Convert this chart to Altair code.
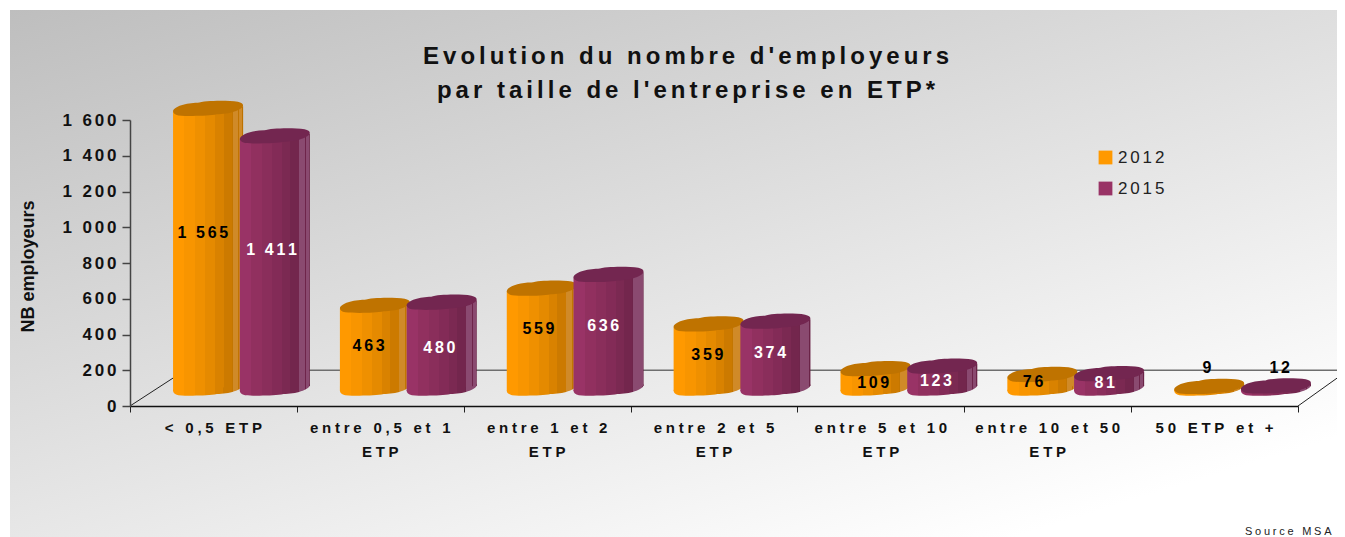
import altair as alt
import pandas as pd

categories = ["< 0,5 ETP", "entre 0,5 et 1\nETP", "entre 1 et 2\nETP", "entre 2 et 5\nETP",
              "entre 5 et 10\nETP", "entre 10 et 50\nETP", "50 ETP et +"]
values_2012 = [1565, 463, 559, 359, 109, 76, 9]
values_2015 = [1411, 480, 636, 374, 123, 81, 12]
label_at_2012 = [967, 336, 431, 285, 131, 134, 213]
label_at_2015 = [872, 325, 447, 295, 142, 128, 213]
label_shift_2012 = [-2, -3, 0, 2, 1, -6, 1]
label_shift_2015 = [0, 1, -2, -2, -3, -1, 7]
y_ticks = [0, 200, 400, 600, 800, 1000, 1200, 1400, 1600]
title_text = "Evolution du nombre d'employeurs\npar taille de l'entreprise en ETP*"
source_text = "Source MSA"

HAIR = "\u200a"
def spaced(s, n=2):
    return "\n".join((HAIR * n).join(line) for line in s.split("\n"))

FONT = "Liberation Sans"
ORANGE_BANDS = ["#ff9900", "#f89500", "#ef9000", "#e58a00", "#d98200", "#cc7a00", "#c47600", "#d08a28", "#c27400", "#d08a28", "#bd7200"]
PURPLE_BANDS = ["#993366", "#91305f", "#8a2e5b", "#832b57", "#7b2952", "#73264d", "#6f254b", "#8a4a70", "#6e244a", "#8a4a70", "#6a2347"]
EDGES = [0, .16, .32, .46, .6, .72, .84, .85, .93, .94, .985, 1]

def band_gradient(bands):
    stops = []
    for k, col in enumerate(bands):
        stops.append(alt.GradientStop(offset=EDGES[k], color=col))
        stops.append(alt.GradientStop(offset=EDGES[k + 1], color=col))
    return alt.LinearGradient(gradient="linear", x1=0, y1=0, x2=1, y2=0, stops=stops)

ELLIPSE = ("M-1,.07 C-.98,-.06 -.62,-.17 -.3,-.17 C-.1,-.24 .55,-.25 .85,-.2 C.95,-.18 1,-.14 1,-.09 "
           "C.98,.04 .6,.16 .25,.16 C0,.21 -.55,.22 -.85,.19 C-.95,.17 -1,.12 -1,.07 Z")
FLOOR = 98
HALF = 0.21
TILT = 14
series = [("2012", values_2012, label_at_2012, label_shift_2012, -0.2, "#000000", "#bf7300", ORANGE_BANDS),
          ("2015", values_2015, label_at_2015, label_shift_2015, 0.2, "#ffffff", "#732650", PURPLE_BANDS)]

x_scale = alt.Scale(domain=[0, 7], range=[0, 1168], nice=False, zero=False)
y_scale = alt.Scale(domain=[0, 1600], nice=False)
x_axis = alt.Axis(values=list(range(8)), labels=False, tickSize=6, tickColor="#222222", tickWidth=1,
                  domainColor="#111111", domainWidth=1.5, grid=False, zindex=1, title=None)
y_axis = alt.Axis(values=y_ticks, grid=False, zindex=1, tickSize=8, tickColor="#444444", tickWidth=1.5,
                  domainColor="#444444", domainWidth=1.5, labelFontSize=17, labelFontWeight="bold",
                  labelFont=FONT, labelColor="#111111", labelPadding=6,
                  labelExpr="join(split(replace(format(datum.value, ','), ',', ' '), ''), '\u200a\u200a')",
                  title="NB employeurs", titleFont=FONT, titleFontSize=18, titleFontWeight="bold",
                  titleColor="#111111", titleX=-93, titleY=146, titleAngle=270)
X = lambda f: alt.X(f, type="quantitative", scale=x_scale, axis=x_axis)
Y = lambda f: alt.Y(f, type="quantitative", scale=y_scale, axis=y_axis)

panel = alt.Chart(pd.DataFrame({"a": [0]})).mark_rect(
    color=alt.LinearGradient(gradient="linear", x1=0, y1=0, x2=0.77, y2=0.99,
        stops=[alt.GradientStop(offset=0, color="#bebebe"), alt.GradientStop(offset=1, color="#ffffff")])
).encode(x=alt.value(-120), x2=alt.value(1207), y=alt.value(-110), y2=alt.value(417))

wall = alt.Chart(pd.DataFrame({"x": [0.33, 7.3], "y": [200, 200]})).mark_line(color="#6e6e6e", strokeWidth=1.6).encode(x=X("x"), y=Y("y"))
depth_rows = pd.DataFrame({"x": [0, 0.33, 7, 7.3], "y": [0, 200, 0, 200], "g": ["a", "a", "b", "b"]})
depth = alt.Chart(depth_rows).mark_line(color="#222222", strokeWidth=1).encode(x=X("x"), y=Y("y"), detail="g:N")

legend_rows = pd.DataFrame({"serie": ["2012", "2015"], "x": [1, 1], "y": [FLOOR, FLOOR]})
legend_layer = alt.Chart(legend_rows).mark_square(size=1).encode(
    x=X("x"), y=Y("y"),
    color=alt.Color("serie:N", scale=alt.Scale(domain=["2012", "2015"], range=["#ff9900", "#993366"]),
        legend=alt.Legend(orient="none", legendX=967, legendY=29, title=None, symbolType="square",
            symbolSize=190, symbolStrokeWidth=0, symbolOpacity=1, labelFont=FONT, labelFontSize=17,
            labelColor="#222222", rowPadding=13, labelOffset=4,
            labelExpr="join(split(datum.label, ''), '\u200a\u200a')")))

layers = [panel, wall, depth, legend_layer]
labels = []
for name, vals, lab, shift, off, ink, dark, bands in series:
    grad = band_gradient(bands)
    rows = [dict(i=i, xc=i + .668 + off, xl=i + .668 + off - HALF, xr=i + .668 + off + HALF, top=v + FLOOR, base=FLOOR)
            for i, v in enumerate(vals)]
    d = pd.DataFrame(rows)
    sides = []
    for r in rows:
        sides.append(dict(i=r["i"], x=r["xl"], y=r["top"] - TILT, y2=r["base"] - TILT))
        sides.append(dict(i=r["i"], x=r["xr"], y=r["top"] + TILT, y2=r["base"] + TILT))
    layers.append(alt.Chart(d).mark_point(shape=ELLIPSE, size=4900, filled=True, opacity=1, fill=grad, strokeWidth=0).encode(x=X("xc"), y=Y("base")))
    layers.append(alt.Chart(pd.DataFrame(sides)).mark_area(color=grad, line=False).encode(
        x=X("x"), y=Y("y"), y2="y2:Q", detail="i:N"))
    layers.append(alt.Chart(d).mark_point(shape=ELLIPSE, size=4900, filled=True, opacity=1, fill=dark, strokeWidth=0).encode(x=X("xc"), y=Y("top")))
    for i, v in enumerate(vals):
        text = f"{v:,}".replace(",", " ")
        labels.append(dict(x=i + .648 + off + shift[i] / 167, y=lab[i], t=spaced(text),
                           ink="#000000" if v < 50 else ink))

value_text = alt.Chart(pd.DataFrame(labels)).mark_text(font=FONT, fontSize=16, fontWeight="bold").encode(
    x=X("x"), y=Y("y"), text="t:N", color=alt.Color("ink:N", scale=None))
layers.append(value_text)

cat_df = pd.DataFrame({"x": [i + .5 for i in range(7)], "t": [spaced(c, 3) for c in categories]})
cat_text = alt.Chart(cat_df).mark_text(font=FONT, fontSize=15, fontWeight="bold", lineBreak="\n", lineHeight=24,
    baseline="top", color="#111111").encode(x=X("x"), y=alt.value(301), text="t:N")
layers.append(cat_text)

title_mark = alt.Chart(pd.DataFrame({"t": [spaced(title_text, 2)]})).mark_text(
    font=FONT, fontSize=24, fontWeight="bold", color="#111111", lineBreak="\n", lineHeight=34, baseline="top"
).encode(x=alt.value(556), y=alt.value(-75), text="t:N")
layers.append(title_mark)

source = alt.Chart(pd.DataFrame({"t": [spaced(source_text, 3)]})).mark_text(
    font=FONT, fontSize=11, align="left", color="#222222").encode(x=alt.value(1115), y=alt.value(412), text="t:N")
layers.append(source)

chart = alt.layer(*layers).properties(
    width=1168, height=286,
    autosize=alt.AutoSizeParams(type="none"),
    padding={"left": 122, "top": 112, "right": 39, "bottom": 131},
    background="white",
).configure_view(stroke=None)

chart.save("out.html", embed_options={"renderer": "svg", "actions": False})
